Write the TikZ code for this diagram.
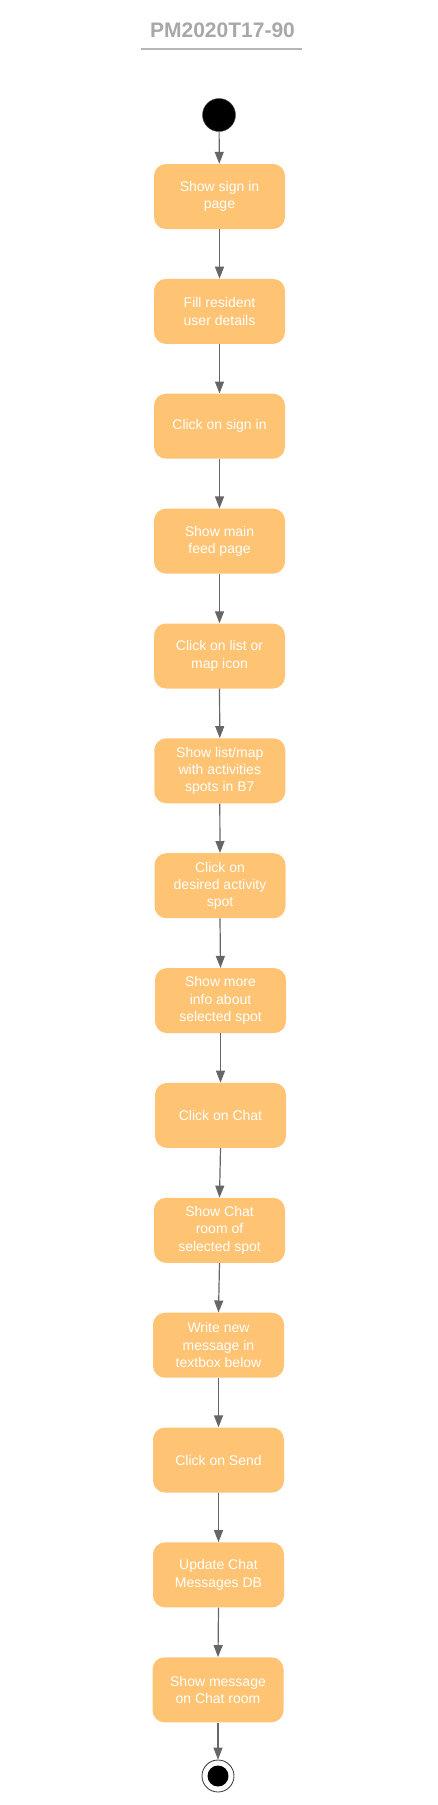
\documentclass[tikz,border=0pt]{standalone}
\usepackage{fontspec}
\setmainfont{Liberation Sans}
\usetikzlibrary{arrows.meta}
\definecolor{boxfill}{HTML}{FFC374}
\definecolor{linegray}{HTML}{666666}
\definecolor{titlegray}{HTML}{A8A8A8}
\tikzset{
  actbox/.style={rectangle, rounded corners=12pt, fill=boxfill, draw=none,
    minimum width=131pt, minimum height=65pt, align=center, text=white,
    inner sep=2pt, font=\fontsize{14}{17.3}\selectfont},
  flow/.style={draw=linegray, line width=1.2pt, -{Triangle[width=9pt,length=12pt]}},
}
\begin{document}
\begin{tikzpicture}[x=1pt,y=-1pt]
\useasboundingbox (0,0) rectangle (438,1805);
\node (title) [text=titlegray, font=\fontsize{21}{25}\bfseries] at (222.5,30) {PM2020T17-90};
\draw[titlegray!85, line width=1.3pt] (141,49) -- (302,49);
\node (start) [circle, fill=black, draw=black!70, minimum size=33pt, inner sep=0pt] at (219,115) {};
\node (b1) [actbox] at (219.5,196.5) {Show sign in\\page};
\node (b2) [actbox] at (219.5,311.4) {Fill resident\\user details};
\node (b3) [actbox] at (219.5,426.2) {Click on sign in};
\node (b4) [actbox] at (219.5,541.1) {Show main\\feed page};
\node (b5) [actbox] at (219.5,656.0) {Click on list or\\map icon};
\node (b6) [actbox] at (219.8,770.8) {Show list/map\\with activities\\spots in B7};
\node (b7) [actbox] at (220,885.7) {Click on\\desired activity\\spot};
\node (b8) [actbox] at (220.5,1000.6) {Show more\\info about\\selected spot};
\node (b9) [actbox] at (220.5,1115.4) {Click on Chat};
\node (b10) [actbox] at (219.5,1230.3) {Show Chat\\room of\\selected spot};
\node (b11) [actbox] at (218.5,1345.2) {Write new\\message in\\textbox below};
\node (b12) [actbox] at (218.5,1460.0) {Click on Send};
\node (b13) [actbox] at (218.5,1574.9) {Update Chat\\Messages DB};
\node (b14) [actbox] at (218,1689.8) {Show message\\on Chat room};
\node (endo) [circle, fill=white, draw=black!80, line width=0.8pt, minimum size=32pt, inner sep=0pt] at (218,1776) {};
\node (endi) [circle, fill=black, minimum size=21pt, inner sep=0pt] at (endo.center) {};
\draw[flow] (start) -- (b1);
\foreach \a/\b in {b1/b2,b2/b3,b3/b4,b4/b5,b5/b6,b6/b7,b7/b8,b8/b9,b9/b10,b10/b11,b11/b12,b12/b13,b13/b14}
  \draw[flow] (\a.south) -- (\b.north);
\draw[flow] (b14.south) -- (endo.north);
\end{tikzpicture}
\end{document}
